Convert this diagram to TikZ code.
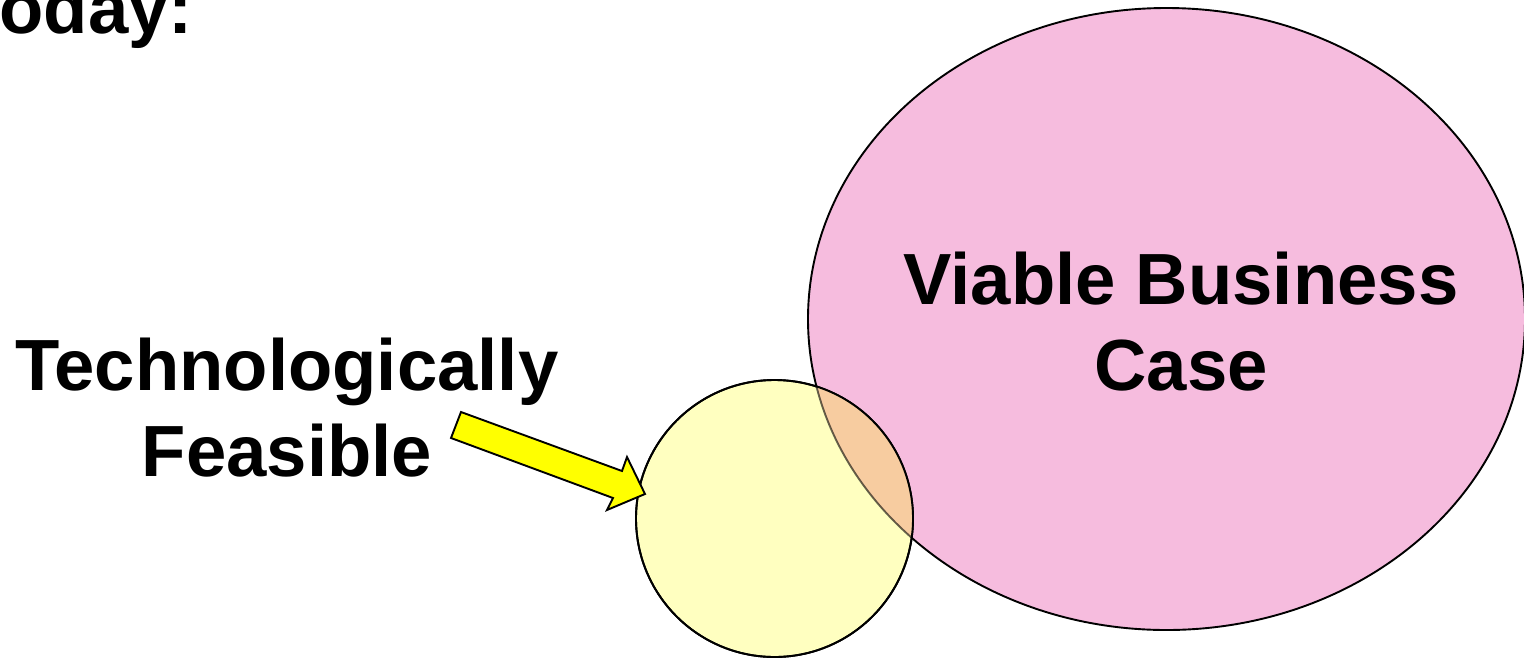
\documentclass[tikz,border=0pt]{standalone}
\usepackage{fontspec}
\setmainfont{Liberation Sans}
\definecolor{pinkfill}{RGB}{246,188,222}
\definecolor{lightyellow}{RGB}{255,255,192}
\definecolor{overlapfill}{RGB}{247,204,160}
\definecolor{arrowyellow}{RGB}{255,255,0}
\begin{document}
\begin{tikzpicture}[x=1pt,y=-1pt,
  outline/.style={draw=black,line width=1.9pt},
  bigtext/.style={font=\bfseries\fontsize{72.5}{86}\selectfont,align=center,inner sep=0pt}]
\useasboundingbox (0,0) rectangle (1524,657);
\begin{scope}
\clip (0,0) rectangle (1524,657);
% ellipse
\path[fill=pinkfill,outline] (1166.5,319) ellipse [x radius=358.5,y radius=311];
% circle
\path[fill=lightyellow,outline] (774.5,518.5) circle [radius=138.5];
% overlap
\begin{scope}
\clip (774.5,518.5) circle [radius=138.5];
\fill[overlapfill] (1166.5,319) ellipse [x radius=358.5,y radius=311];
\draw[draw=black,draw opacity=0.6,line width=1.9pt] (1166.5,319) ellipse [x radius=358.5,y radius=311];
\end{scope}
\draw[outline] (774.5,518.5) circle [radius=138.5];
% block arrow
\draw[outline,fill=arrowyellow,line join=miter] (461,412) -- (622,471) -- (627,457) -- (645,494) -- (607,510) -- (613,498) -- (451,438) -- cycle;
% texts
\node[bigtext,anchor=base east] (today) at (193,33) {oday:};
\end{scope}
\node[bigtext,anchor=base] (tech) at (287,476) {Technologically\\Feasible};
\node[bigtext,anchor=base] (viable) at (1181,390) {Viable Business\\Case};
\end{tikzpicture}
\end{document}
